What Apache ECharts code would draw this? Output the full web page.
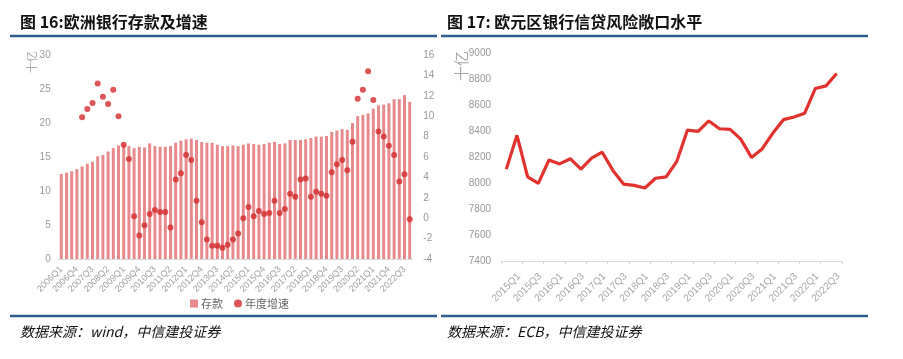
<!DOCTYPE html>
<html>
<head>
<meta charset="utf-8">
<script src="https://cdn.jsdelivr.net/npm/echarts@6/dist/echarts.min.js"></script>
<style>
html,body{margin:0;padding:0;background:#fff;}
#c{width:903px;height:359px;}
</style>
</head>
<body>
<div id="c"></div>
<script>
// ---- Left chart: 欧洲银行存款及增速 ----
var depositCats = [
 '2006Q1','2006Q2','2006Q3','2006Q4','2007Q1','2007Q2','2007Q3','2007Q4',
 '2008Q1','2008Q2','2008Q3','2008Q4','2009Q1','2009Q2','2009Q3','2009Q4',
 '2010Q1','2010Q2','2010Q3','2010Q4','2011Q1','2011Q2','2011Q3','2011Q4',
 '2012Q1','2012Q2','2012Q3','2012Q4','2013Q1','2013Q2','2013Q3','2013Q4',
 '2014Q1','2014Q2','2014Q3','2014Q4','2015Q1','2015Q2','2015Q3','2015Q4',
 '2016Q1','2016Q2','2016Q3','2016Q4','2017Q1','2017Q2','2017Q3','2017Q4',
 '2018Q1','2018Q2','2018Q3','2018Q4','2019Q1','2019Q2','2019Q3','2019Q4',
 '2020Q1','2020Q2','2020Q3','2020Q4','2021Q1','2021Q2','2021Q3','2021Q4',
 '2022Q1','2022Q2','2022Q3','2022Q4'
];
var deposits = [
 12.5, 12.7, 12.9, 13.2, 13.6, 14.0, 14.3, 15.1, 15.3, 15.8,
 16.3, 16.7, 16.8, 16.6, 16.3, 16.5, 16.4, 17.0, 16.6, 16.5,
 16.5, 16.6, 17.1, 17.4, 17.6, 17.7, 17.5, 17.2, 17.1, 17.1,
 16.8, 16.6, 16.6, 16.7, 16.6, 16.8, 17.0, 16.9, 16.8, 16.9,
 17.1, 17.2, 16.9, 17.0, 17.5, 17.5, 17.5, 17.6, 17.8, 18.0,
 18.0, 18.1, 18.7, 18.9, 19.1, 19.0, 20.0, 21.0, 21.2, 21.4,
 22.1, 22.6, 22.7, 22.9, 23.5, 23.5, 24.1, 23.1
];
var growth = [
 null, null, null, null,
 9.9, 10.7, 11.3, 13.2, 11.9, 11.2, 12.6, 10.0, 7.2, 5.8,
 0.2, -1.7, -0.7, 0.4, 0.8, 0.6, 0.6, -0.9, 3.8, 4.4,
 6.2, 5.7, 1.7, -0.4, -2.1, -2.7, -2.7, -2.9, -2.6, -2.1,
 -1.5, 0.0, 1.1, 0.2, 0.7, 0.4, 0.5, 1.7, 0.5, 0.9,
 2.4, 2.1, 3.8, 3.9, 2.1, 2.6, 2.4, 2.2, 4.5, 5.3,
 5.7, 4.7, 7.5, 11.7, 12.6, 14.4, 11.6, 8.5, 8.0, 7.1,
 6.2, 3.6, 4.3, -0.1
];

// ---- Right chart: 欧元区银行信贷风险敞口水平 ----
var loanCats = [
 '2015Q1','2015Q2','2015Q3','2015Q4','2016Q1','2016Q2','2016Q3','2016Q4',
 '2017Q1','2017Q2','2017Q3','2017Q4','2018Q1','2018Q2','2018Q3','2018Q4',
 '2019Q1','2019Q2','2019Q3','2019Q4','2020Q1','2020Q2','2020Q3','2020Q4',
 '2021Q1','2021Q2','2021Q3','2021Q4','2022Q1','2022Q2','2022Q3','2022Q4'
];
var exposure = [
 8110, 8370, 8050, 8000, 8180, 8150, 8190, 8110,
 8195, 8240, 8100, 7995, 7985, 7965, 8040, 8050,
 8170, 8410, 8400, 8480, 8420, 8415, 8340, 8200,
 8265, 8385, 8490, 8510, 8540, 8730, 8750, 8845
];

var FONT = '"Liberation Sans","Noto Sans CJK SC",sans-serif';
var CJK = '"Noto Sans CJK SC",sans-serif';
var chart = echarts.init(document.getElementById('c'), null, {renderer:'canvas'});

var option = {
  animation: false,
  backgroundColor: '#fff',
  textStyle: {fontFamily: FONT},
  grid: [
    {left: 58.7, right: 490.7, top: 55, bottom: 100},
    {left: 501, right: 61, top: 53.3, bottom: 97.5}
  ],
  legend: {
    left: 185, top: 293,
    itemWidth: 8, itemHeight: 8, itemGap: 11,
    textStyle: {fontSize: 11, color: '#666', fontFamily: CJK, padding: [0,0,0,-2]},
    data: [{name: '存款', icon: 'rect'}, {name: '年度增速', icon: 'circle'}]
  },
  xAxis: [
    {type: 'category', gridIndex: 0, data: depositCats,
     axisLine: {lineStyle: {color: '#d9d9d9'}},
     axisTick: {show: false},
     axisLabel: {rotate: 45, interval: 2, fontSize: 9, color: '#a0a0a0', margin: 9}},
    {type: 'category', gridIndex: 1, data: loanCats,
     axisLine: {lineStyle: {color: '#d9d9d9'}},
     axisTick: {show: true, length: 3, lineStyle: {color: '#d9d9d9'}},
     axisLabel: {rotate: 45, interval: 1, fontSize: 10, color: '#a6a6a6', align: 'center', margin: 26}}
  ],
  yAxis: [
    {type: 'value', gridIndex: 0, min: 0, max: 30, interval: 5,
     axisLine: {show: false}, axisTick: {show: false}, splitLine: {show: false},
     axisLabel: {fontSize: 10, color: '#999', margin: 8}},
    {type: 'value', gridIndex: 0, position: 'right', min: -4, max: 16, interval: 2,
     axisLine: {show: false}, axisTick: {show: false}, splitLine: {show: false},
     axisLabel: {fontSize: 10, color: '#999', margin: 11}},
    {type: 'value', gridIndex: 1, min: 7400, max: 9000, interval: 200,
     axisLine: {show: false}, axisTick: {show: false}, splitLine: {show: false},
     axisLabel: {fontSize: 10, color: '#999', margin: 10, formatter: function (v) { return String(v); }}}
  ],
  series: [
    {name: '存款', type: 'bar', xAxisIndex: 0, yAxisIndex: 0, data: deposits,
     barWidth: 3, itemStyle: {color: '#E88A8B'}},
    {name: '年度增速', type: 'scatter', xAxisIndex: 0, yAxisIndex: 1, data: growth,
     symbolSize: 6, itemStyle: {color: '#D52A2A'}, z: 5},
    {name: '敞口', type: 'line', xAxisIndex: 1, yAxisIndex: 2, data: exposure,
     showSymbol: false, symbol: 'none',
     lineStyle: {width: 3.2, color: '#E1322D'}}
  ],
  graphic: [
    {type: 'text', x: 20, y: 22, style: {text: '图 16:欧洲银行存款及增速', font: 'bold 16px ' + CJK, fill: '#111', verticalAlign: 'middle'}},
    {type: 'text', x: 447, y: 22, style: {text: '图 17: 欧元区银行信贷风险敞口水平', font: 'bold 16px ' + CJK, fill: '#111', verticalAlign: 'middle'}},
    {type: 'line', shape: {x1: 10, y1: 36, x2: 437, y2: 36}, style: {stroke: '#2D5D8B', lineWidth: 2.5}},
    {type: 'line', shape: {x1: 441, y1: 36, x2: 868, y2: 36}, style: {stroke: '#2D5D8B', lineWidth: 2.5}},
    {type: 'line', shape: {x1: 10, y1: 316, x2: 437, y2: 316}, style: {stroke: '#2D5D8B', lineWidth: 2.5}},
    {type: 'line', shape: {x1: 441, y1: 316, x2: 868, y2: 316}, style: {stroke: '#2D5D8B', lineWidth: 2.5}},
    {type: 'text', x: 20, y: 332, style: {text: '数据来源：wind，中信建投证券', font: 'italic 14px ' + CJK, fill: '#111', verticalAlign: 'middle'}},
    {type: 'text', x: 447, y: 332, style: {text: '数据来源：ECB，中信建投证券', font: 'italic 14px ' + CJK, fill: '#111', verticalAlign: 'middle'}},
    {type: 'text', x: 32, y: 62, rotation: Math.PI / 2, style: {text: '十亿', font: '11px ' + CJK, fill: '#aaa', align: 'center', verticalAlign: 'middle'}},
    {type: 'text', x: 461, y: 66, rotation: Math.PI / 2, style: {text: '十亿', font: '15px ' + CJK, fill: '#aaa', align: 'center', verticalAlign: 'middle'}}
  ]
};
chart.setOption(option);
</script>
</body>
</html>
